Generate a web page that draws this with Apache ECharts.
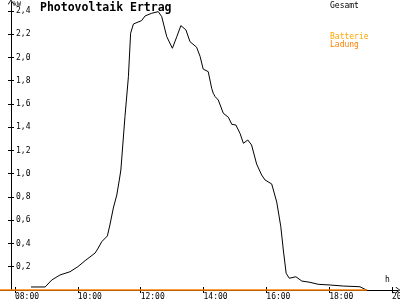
<!DOCTYPE html>
<html>
<head>
<meta charset="utf-8">
<script src="https://cdn.jsdelivr.net/npm/echarts@6/dist/echarts.min.js"></script>
<style>html,body{margin:0;padding:0;background:#fff}#c{width:400px;height:300px}</style>
</head>
<body>
<div id="c"></div>
<script>
// Data (hours of day, kW)
var hours = [8.51, 8.96, 9.17, 9.43, 9.75, 10.0, 10.23, 10.55, 10.65, 10.76, 10.94, 11.02, 11.13, 11.24, 11.32, 11.37, 11.50, 11.61, 11.68, 11.77, 12.03, 12.14, 12.35, 12.56, 12.67, 12.83, 13.01, 13.15, 13.28, 13.44, 13.57, 13.78, 13.89, 13.99, 14.15, 14.26, 14.31, 14.37, 14.47, 14.63, 14.79, 14.90, 15.03, 15.16, 15.27, 15.41, 15.53, 15.69, 15.85, 15.96, 16.01, 16.17, 16.33, 16.46, 16.54, 16.63, 16.73, 16.94, 17.13, 17.39, 17.65, 18.03, 18.45, 18.98, 19.14, 19.2];
var gesamt = [0.026, 0.026, 0.086, 0.129, 0.157, 0.200, 0.252, 0.318, 0.361, 0.415, 0.465, 0.559, 0.705, 0.817, 0.946, 1.032, 1.491, 1.835, 2.208, 2.288, 2.317, 2.357, 2.380, 2.394, 2.351, 2.179, 2.079, 2.179, 2.274, 2.237, 2.136, 2.088, 2.01, 1.90, 1.878, 1.735, 1.692, 1.663, 1.634, 1.520, 1.486, 1.425, 1.419, 1.348, 1.262, 1.290, 1.247, 1.084, 0.989, 0.946, 0.932, 0.912, 0.757, 0.545, 0.344, 0.144, 0.101, 0.114, 0.077, 0.066, 0.049, 0.043, 0.034, 0.028, 0.006, 0];
var ladungHours = [7.52, 19.2];
var ladung = [0, 0];
var xTicks = [8, 10, 12, 14, 16, 18, 20];
var yTicks = [0.2, 0.4, 0.6, 0.8, 1.0, 1.2, 1.4, 1.6, 1.8, 2.0, 2.2, 2.4];

var FONT = 'DejaVu Sans Mono';
function zip(a, b) { return a.map(function (v, i) { return [v, b[i]]; }); }
var arrow = 'path://M5,0 L10,7 L9,8 L5,2 L1,8 L0,7 Z';
function txt(t, l, tp, size, color, weight) {
  return { text: t, left: l, top: tp, padding: 0, textStyle: { fontFamily: FONT, fontSize: size, fontWeight: weight || 'normal', color: color } };
}

var chart = echarts.init(document.getElementById('c'), null, { renderer: 'canvas' });
chart.setOption({
  animation: false,
  backgroundColor: '#ffffff',
  title: [
    txt('Photovoltaik Ertrag', 40, 2.5, 11.5, '#000', 'bold'),
    txt('kW', 13, 0.5, 6.5, '#000'),
    txt('Gesamt', 330, 2, 8, '#000'),
    txt('Batterie', 330, 33, 8, '#ffa500'),
    txt('Ladung', 330, 41, 8, '#ff8000'),
    txt('h', 385, 276, 8, '#000')
  ],
  grid: { left: 0, right: 2, top: 2, bottom: 10, containLabel: false, outerBoundsMode: 'none' },
  xAxis: [{
    type: 'value', min: 7.523, max: 20.19,
    axisLine: { show: true, lineStyle: { color: '#000', width: 1 }, symbol: ['none', arrow], symbolSize: [7, 5] },
    splitLine: { show: false },
    axisTick: { show: true, inside: false, length: 3, customValues: xTicks, lineStyle: { color: '#000' } },
    axisLabel: { show: true, customValues: xTicks, align: 'left', alignMaxLabel: 'left', alignMinLabel: 'left', margin: 3, fontFamily: FONT, fontSize: 8, color: '#000',
      formatter: function (v) { return (v < 10 ? '0' : '') + v + ':00'; } }
  }, {
    type: 'value', min: 7.523, max: 20.19, position: 'bottom',
    axisLine: { show: false }, splitLine: { show: false }, axisLabel: { show: false },
    axisTick: { show: true, inside: true, length: 3, customValues: xTicks, lineStyle: { color: '#000' } }
  }],
  yAxis: [{
    type: 'value', min: 0, max: 2.477, offset: -11,
    axisLine: { show: true, lineStyle: { color: '#000', width: 1 }, symbol: ['none', arrow], symbolSize: [7, 5] },
    splitLine: { show: false },
    axisTick: { show: true, inside: false, length: 3, customValues: yTicks, lineStyle: { color: '#000' } },
    axisLabel: { show: true, inside: true, margin: 5, customValues: yTicks, fontFamily: FONT, fontSize: 8, color: '#000',
      formatter: function (v) { return v.toFixed(1).replace('.', ','); } }
  }, {
    type: 'value', min: 0, max: 2.477, offset: -11, position: 'left',
    axisLine: { show: false }, splitLine: { show: false }, axisLabel: { show: false },
    axisTick: { show: true, inside: true, length: 3, customValues: yTicks, lineStyle: { color: '#000' } }
  }],
  series: [{
    name: 'Gesamt', type: 'line', data: zip(hours, gesamt), showSymbol: false, symbol: 'none', clip: false,
    lineStyle: { color: '#000', width: 1 }
  }, {
    name: 'Ladung', type: 'line', data: zip(ladungHours, ladung), showSymbol: false, symbol: 'none', clip: false,
    lineStyle: { color: '#ff8000', width: 1.5 }
  }]
});
</script>
</body>
</html>
